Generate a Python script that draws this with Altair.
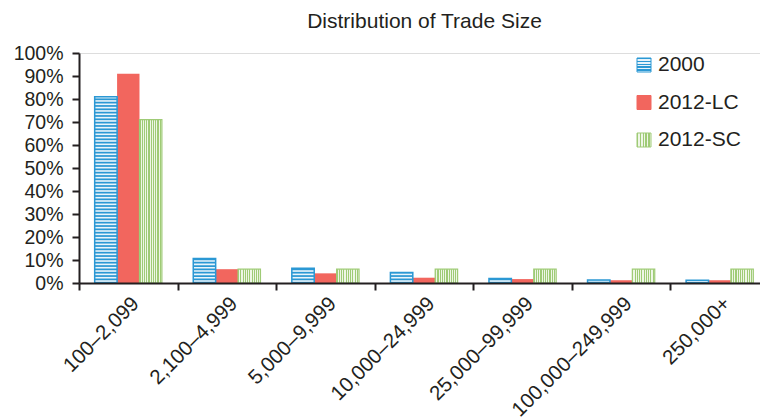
import altair as alt
import pandas as pd

categories = ["100–2,099", "2,100–4,999", "5,000–9,999", "10,000–24,999",
              "25,000–99,999", "100,000–249,999", "250,000+"]
series = ["2000", "2012-LC", "2012-SC"]
share_2000 = [81, 10.7, 6.4, 4.6, 2.0, 1.3, 1.2]
share_2012_lc = [91, 6.0, 4.2, 2.3, 1.7, 1.2, 1.2]
share_2012_sc = [71, 6.0, 6.0, 6.0, 6.0, 6.0, 6.0]
y_ticks = list(range(0, 101, 10))
title_text = "Distribution of Trade Size"

BLUE = "#2b98d4"
BLUE_LIGHT = "#e6f3fb"
RED = "#f2665e"
GREEN = "#9fcb76"
GREEN_LIGHT = "#eef6e6"
TEXT = "#231f20"
FONT = "Liberation Sans"

rows = []
for s, vals in zip(series, [share_2000, share_2012_lc, share_2012_sc]):
    for c, v in zip(categories, vals):
        rows.append({"range": c, "series": s, "share": v})
df = pd.DataFrame(rows)


def stripes(c1, c2, n, vertical):
    stops = []
    for i in range(n):
        a, b, c = i / n, (i + 0.5) / n, (i + 1) / n
        stops += [alt.GradientStop(offset=a, color=c1), alt.GradientStop(offset=b, color=c1),
                  alt.GradientStop(offset=b, color=c2), alt.GradientStop(offset=c, color=c2)]
    if vertical:
        return alt.LinearGradient(gradient="linear", stops=stops, x1=0, x2=1, y1=0, y2=0)
    return alt.LinearGradient(gradient="linear", stops=stops, x1=0, x2=0, y1=0, y2=1)


x_axis = alt.Axis(labelAngle=-45, tickBand="extent", tickSize=7, tickWidth=2,
                  tickColor=TEXT, domainColor=TEXT, domainWidth=2, labelColor=TEXT,
                  labelFont=FONT, labelFontSize=20.5, labelPadding=3, title=None,
                  zindex=1, grid=False)
y_axis = alt.Axis(values=y_ticks, labelExpr="datum.value + '%'", title=None, grid=False,
                  tickSize=7, tickWidth=2, tickColor=TEXT, domainColor=TEXT, domainWidth=2,
                  labelColor=TEXT, labelFont=FONT, labelFontSize=19.5, labelPadding=9,
                  zindex=1)

# the plot's last band runs past the page edge in the reference
x_enc = alt.X("range:N", sort=categories, title=None,
              scale=alt.Scale(domain=categories, paddingInner=0, paddingOuter=0,
                              range=[0, 690]),
              axis=x_axis)
xo_enc = alt.XOffset("series:N", sort=series,
                     scale=alt.Scale(domain=series, paddingInner=0, paddingOuter=0.7))
y_scale = alt.Scale(domain=[0, 100], nice=False, zero=True)

base = alt.Chart(df)

red = base.transform_filter(alt.datum.series == "2012-LC").mark_bar(fill=RED).encode(
    x=x_enc, xOffset=xo_enc, y=alt.Y("share:Q", scale=y_scale, axis=y_axis))

green = base.transform_filter(alt.datum.series == "2012-SC").mark_bar(
    fill=stripes(GREEN, GREEN_LIGHT, 10, True), stroke=GREEN, strokeWidth=1.2).encode(
    x=x_enc, xOffset=xo_enc, y=alt.Y("share:Q", scale=y_scale, axis=y_axis))

blue = base.transform_filter(alt.datum.series == "2000").mark_bar(fill=BLUE).encode(
    x=x_enc, xOffset=xo_enc, y=alt.Y("share:Q", scale=y_scale, axis=y_axis))

blue_stripes = base.transform_filter(alt.datum.series == "2000").transform_calculate(
    stripe="sequence(0.5, datum.share - 0.3, 1.45)"
).transform_flatten(["stripe"]).transform_calculate(
    stripe2="datum.stripe + 0.7"
).mark_bar(fill="white", opacity=0.9).encode(
    x=x_enc, xOffset=xo_enc,
    y=alt.Y("stripe:Q", scale=y_scale, axis=y_axis), y2="stripe2:Q")

blue_outline = base.transform_filter(alt.datum.series == "2000").mark_bar(
    fillOpacity=0, stroke=BLUE, strokeWidth=1.5).encode(
    x=x_enc, xOffset=xo_enc, y=alt.Y("share:Q", scale=y_scale, axis=y_axis))

legend_fills = [stripes(BLUE, BLUE_LIGHT, 5, False), RED, stripes(GREEN, GREEN_LIGHT, 5, True)]
legend_strokes = [BLUE, RED, GREEN]
legend_rows = [12, 49.5, 87]
legend_layers = []
for name, fill, stroke, yc in zip(series, legend_fills, legend_strokes, legend_rows):
    d = pd.DataFrame({"label": [name]})
    legend_layers.append(alt.Chart(d).mark_rect(fill=fill, stroke=stroke, strokeWidth=1).encode(
        x=alt.value(558), x2=alt.value(572), y=alt.value(yc - 7), y2=alt.value(yc + 7)))
    legend_layers.append(alt.Chart(d).mark_text(
        align="left", baseline="middle", font=FONT, fontSize=21, color=TEXT).encode(
        x=alt.value(579), y=alt.value(yc), text="label:N"))

chart = alt.layer(red, green, blue, blue_stripes, blue_outline, *legend_layers).properties(
    width=681, height=230,
    title=alt.TitleParams(title_text, font=FONT, fontSize=21, fontWeight="normal",
                          color=TEXT, anchor="middle", offset=11, dx=5),
    autosize=alt.AutoSizeParams(type="none"),
    padding={"left": 71, "top": 45, "right": 0, "bottom": 134},
).configure_view(stroke=None).configure(background="white")

chart.save("out.html", embed_options={"renderer": "svg", "actions": False})
